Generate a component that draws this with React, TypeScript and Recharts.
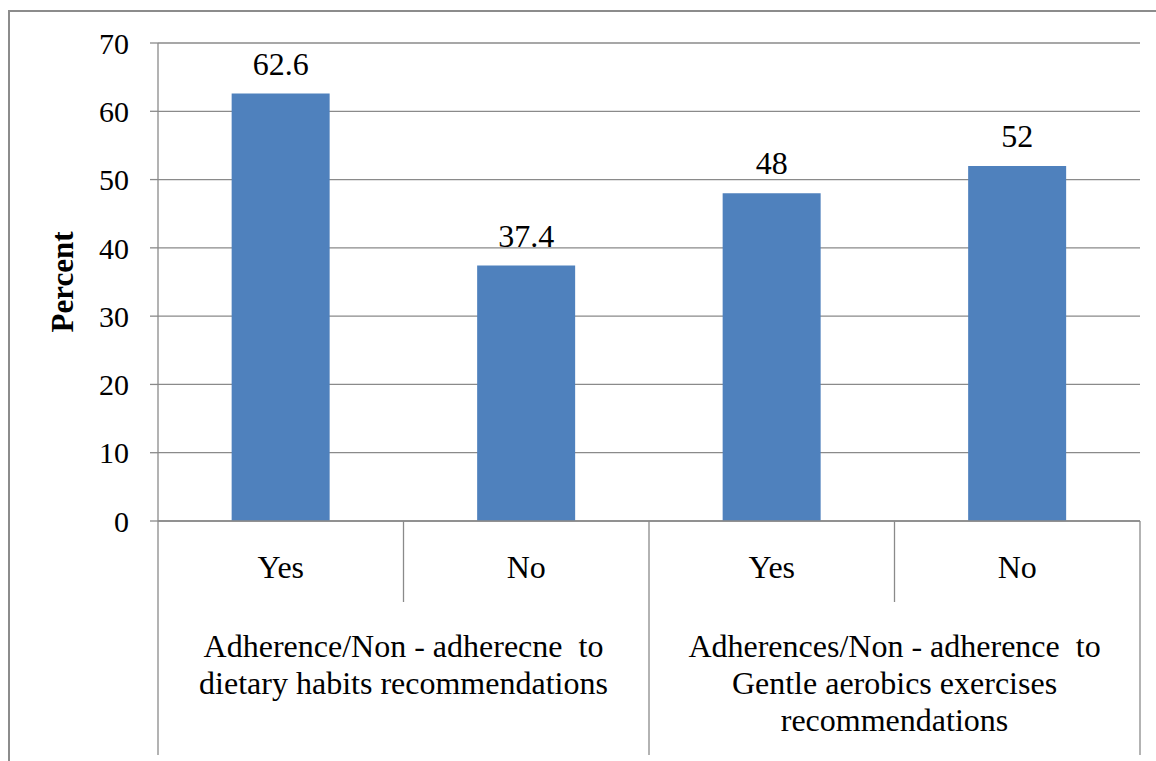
import React from 'react';
import { BarChart, Bar, XAxis, YAxis, CartesianGrid, LabelList, Label } from 'recharts';

const categories = ['Yes', 'No', 'Yes', 'No'];
const values = [62.6, 37.4, 48, 52];
const groupLabels = [
  ['Adherence/Non - adherecne  to', 'dietary habits recommendations'],
  ['Adherences/Non - adherence  to', 'Gentle aerobics exercises', 'recommendations'],
];
const yTicks = [0, 10, 20, 30, 40, 50, 60, 70];

const data = categories.map((c, i) => ({ label: c, value: values[i], group: Math.floor(i / 2) }));

const FONT = '"Liberation Serif", "Times New Roman", serif';
const GRID = '#8a8a8a';
const W = 1156;
const H = 761;
const MARGIN = { top: 43, right: 16, bottom: 0, left: 0 };
const Y_W = 158;
const X_H = 240;

const XTick = (props: any) => {
  const { x, y, payload, index } = props;
  const n = data.length;
  const plotW = W - MARGIN.left - MARGIN.right - Y_W;
  const half = payload && typeof payload.offset === 'number' && payload.offset > 0 ? payload.offset : plotW / n / 2;
  const left = x - half;
  const isGroupStart = index % 2 === 0;
  const els: any[] = [];
  els.push(
    <text key="t" x={x} y={y + 57} textAnchor="middle" fontSize={32} fontFamily={FONT} fill="#000">
      {payload.value}
    </text>
  );
  els.push(
    <line key="l" x1={left} x2={left} y1={y} y2={isGroupStart ? y + 234 : y + 81} stroke={GRID} strokeWidth={1.3} />
  );
  if (index === n - 1) {
    els.push(<line key="r" x1={x + half} x2={x + half} y1={y} y2={y + 234} stroke={GRID} strokeWidth={1.3} />);
  }
  if (isGroupStart) {
    const g = groupLabels[Math.floor(index / 2)] || [];
    els.push(
      <text key="g" x={x + half} y={y + 136} textAnchor="middle" fontSize={32} fontFamily={FONT} fill="#000">
        {g.map((line, k) => (
          <tspan key={k} x={x + half} dy={k === 0 ? 0 : 37} style={{ whiteSpace: 'pre' }}>
            {line}
          </tspan>
        ))}
      </text>
    );
  }
  return <g>{els}</g>;
};

const PercentLabel = (props: any) => {
  const vb = props.viewBox || {};
  const cy = (vb.y || 0) + (vb.height || 0) / 2;
  return (
    <text
      x={62}
      y={cy}
      transform={`rotate(-90, 62, ${cy})`}
      textAnchor="middle"
      dominantBaseline="central"
      fontSize={31}
      fontWeight="bold"
      fontFamily={FONT}
      fill="#000"
    >
      Percent
    </text>
  );
};

export default function App() {
  return (
    <div style={{ position: 'absolute', left: 0, top: 0, width: W, height: H, background: '#fff', overflow: 'hidden' }}>
      <div
        style={{
          position: 'absolute',
          left: 8,
          top: 10,
          width: W,
          height: H,
          borderLeft: '2px solid #8c8c8c',
          borderTop: '2px solid #8c8c8c',
        }}
      />
      <div style={{ position: 'absolute', left: 0, top: 0 }}>
        <BarChart width={W} height={H} data={data} margin={MARGIN} barCategoryGap="30%">
          <CartesianGrid vertical={false} stroke={GRID} strokeWidth={1.3} />
          <XAxis
            dataKey="label"
            height={X_H}
            tickLine={false}
            tickSize={0}
            tickMargin={0}
            axisLine={{ stroke: GRID, strokeWidth: 1.3 }}
            tick={<XTick />}
            interval={0}
          />
          <YAxis
            width={Y_W}
            domain={[0, 70]}
            ticks={yTicks}
            interval={0}
            tickSize={8}
            tickMargin={21}
            tickLine={{ stroke: GRID, strokeWidth: 1.3 }}
            axisLine={{ stroke: GRID, strokeWidth: 1.3 }}
            tick={{ fontSize: 30, fontFamily: FONT, fill: '#000' }}
          >
            <Label content={<PercentLabel />} />
          </YAxis>
          <Bar dataKey="value" fill="#4F81BD" isAnimationActive={false}>
            <LabelList dataKey="value" position="top" offset={19} fontSize={32} fontFamily={FONT} fill="#000" />
          </Bar>
        </BarChart>
      </div>
    </div>
  );
}
